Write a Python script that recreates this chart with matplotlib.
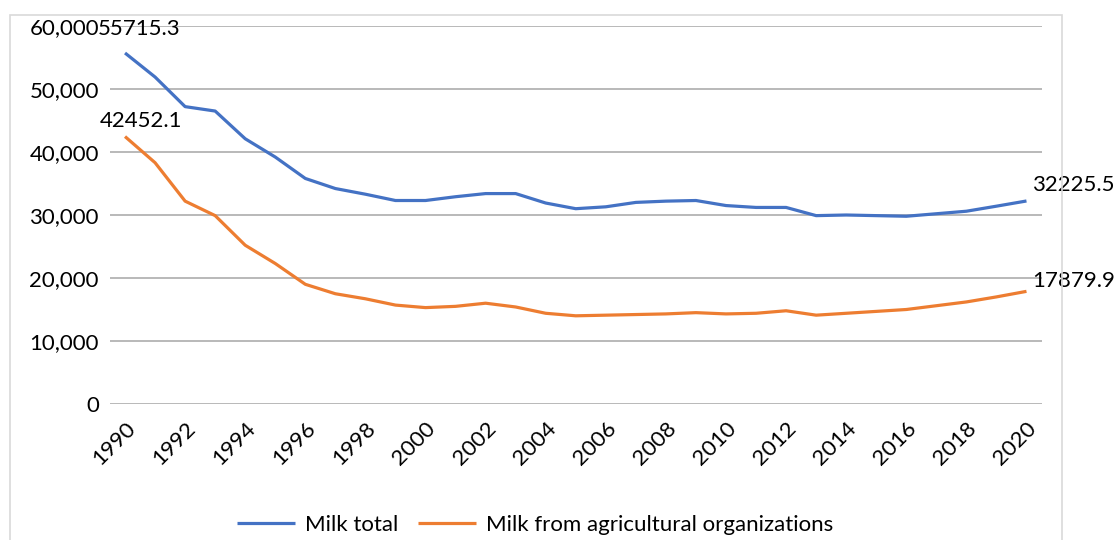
import matplotlib
matplotlib.use("Agg")
import matplotlib.pyplot as plt
from matplotlib.patches import Rectangle
from matplotlib.ticker import FuncFormatter, MultipleLocator

plt.rcParams['font.family'] = ['Lato', 'DejaVu Sans']

years = list(range(1990, 2021))
milk_total = [55715.3, 51900, 47200, 46500, 42100, 39200, 35800, 34200, 33300,
              32300, 32300, 32900, 33400, 33400, 31900, 31000, 31300, 32000,
              32200, 32300, 31500, 31200, 31200, 29900, 30000, 29900, 29800,
              30200, 30600, 31400, 32225.5]
milk_agri = [42452.1, 38300, 32200, 29900, 25200, 22300, 19000, 17500, 16700,
             15700, 15300, 15500, 16000, 15400, 14400, 14000, 14100, 14200,
             14300, 14500, 14300, 14400, 14800, 14100, 14400, 14700, 15000,
             15600, 16200, 17000, 17879.9]
series_names = ["Milk total", "Milk from agricultural organizations"]
tick_years = list(range(1990, 2021, 2))

BLUE = "#4472C4"
ORANGE = "#ED7D31"
TEXT = "#000000"
FS = 16

W, H = 1119, 540
fig = plt.figure(figsize=(W / 100, H / 100), dpi=100)

# chart area outline
fig.patches.append(Rectangle((10 / W, -0.1), (1062 - 10) / W, 1.1 - 15 / H,
                             transform=fig.transFigure, fill=False,
                             edgecolor="#D9D9D9", linewidth=1.2))

ax = fig.add_axes([110 / W, 1 - 404 / H, (1041.5 - 110) / W, (404 - 26) / H])

l1, = ax.plot(years, milk_total, color=BLUE, lw=2.3, solid_capstyle='butt',
              label=series_names[0])
l2, = ax.plot(years, milk_agri, color=ORANGE, lw=2.3, solid_capstyle='butt',
              label=series_names[1])

ax.set_xlim(1989.5, 2020.5)
ax.set_ylim(0, 60000)
ax.yaxis.set_major_locator(MultipleLocator(10000))
ax.yaxis.set_major_formatter(FuncFormatter(lambda v, p: f"{v:,.0f}"))
ax.set_xticks(tick_years)
ax.set_xticklabels([str(y) for y in tick_years], rotation=45, ha='right',
                   va='top', rotation_mode='anchor')

ax.grid(axis='y', color="#A6A6A6", lw=1.1)
ax.set_axisbelow(True)
for s in ax.spines.values():
    s.set_visible(False)
ax.tick_params(axis='both', length=0, labelsize=FS, colors=TEXT)
ax.tick_params(axis='y', pad=8)
ax.tick_params(axis='x', pad=10)

# value labels at the series ends
ax.annotate(f"{milk_total[0]}", (years[0], milk_total[0]), xytext=(14, 24),
            textcoords='offset pixels', ha='center', va='center', fontsize=FS)
ax.annotate(f"{milk_agri[0]}", (years[0], milk_agri[0]), xytext=(16, 16),
            textcoords='offset pixels', ha='center', va='center', fontsize=FS)
ax.annotate(f"{milk_total[-1]}", (years[-1], milk_total[-1]), xytext=(6, 16),
            textcoords='offset pixels', ha='left', va='center', fontsize=FS,
            annotation_clip=False)
ax.annotate(f"{milk_agri[-1]}", (years[-1], milk_agri[-1]), xytext=(6, 10),
            textcoords='offset pixels', ha='left', va='center', fontsize=FS,
            annotation_clip=False)

fig.legend(handles=[l1, l2], loc='center', bbox_to_anchor=(535 / W, 1 - 525 / H),
           ncol=2, frameon=False, fontsize=FS, handlelength=2.6,
           handletextpad=0.45, columnspacing=0.9)

fig.savefig("out.png", dpi=100)
